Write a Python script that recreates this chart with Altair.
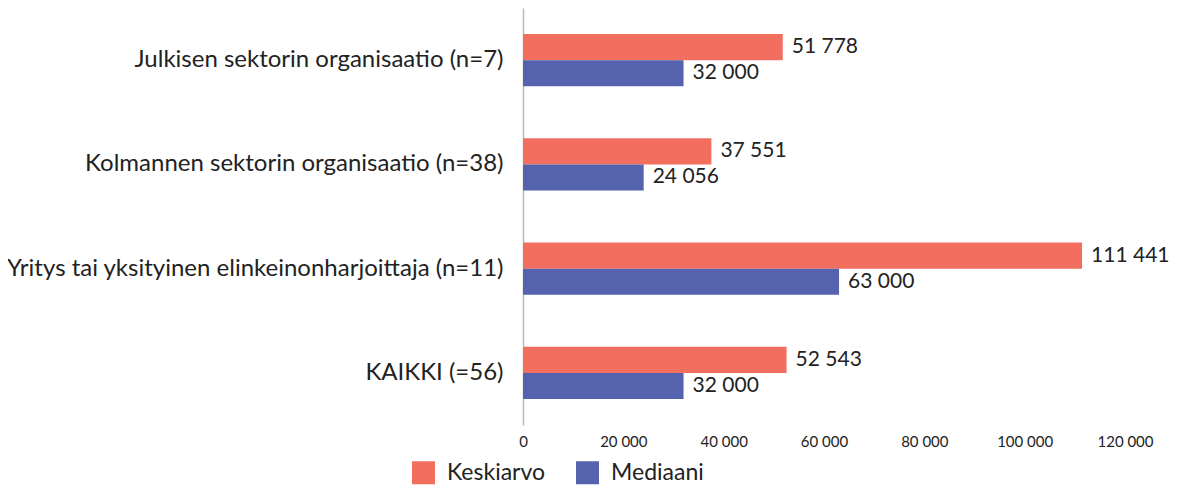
import altair as alt
import pandas as pd

categories = [
    "Julkisen sektorin organisaatio (n=7)",
    "Kolmannen sektorin organisaatio (n=38)",
    "Yritys tai yksityinen elinkeinonharjoittaja (n=11)",
    "KAIKKI (=56)",
]
series = ["Keskiarvo", "Mediaani"]
keskiarvo = [51778, 37551, 111441, 52543]
mediaani = [32000, 24056, 63000, 32000]
x_ticks = [0, 20000, 40000, 60000, 80000, 100000, 120000]
colors = ["#F26E5F", "#5563AE"]

rows = []
for c, k, m in zip(categories, keskiarvo, mediaani):
    rows.append({"cat": c, "series": series[0], "value": k})
    rows.append({"cat": c, "series": series[1], "value": m})
df = pd.DataFrame(rows)
df["label"] = df["value"].map(lambda v: f"{v:,}".replace(",", " "))

FONT = "Lato"
TXT = "#222222"

y_enc = alt.Y(
    "cat:N",
    sort=categories,
    title=None,
    scale=alt.Scale(paddingInner=0.5, paddingOuter=0.25),
    axis=alt.Axis(
        labelFontSize=24, labelColor=TXT, labelFont=FONT, labelPadding=20,
        ticks=False, domainColor="#BBBBBB", domainWidth=1.5, labelLimit=600,
    ),
)
x_enc = alt.X(
    "value:Q",
    title=None,
    scale=alt.Scale(domain=[0, 120000], nice=False),
    axis=alt.Axis(
        values=x_ticks, labelExpr="replace(format(datum.value, ','), ',', ' ')",
        grid=False, ticks=False, domain=False, labelFontSize=15,
        labelColor=TXT, labelFont=FONT, labelPadding=9, labelFlush=False,
        labelOverlap=False,
    ),
)

base = alt.Chart(df)
bars = base.mark_bar().encode(
    x=x_enc,
    y=y_enc,
    yOffset=alt.YOffset("series:N", sort=series),
    color=alt.Color(
        "series:N",
        scale=alt.Scale(domain=series, range=colors),
        legend=alt.Legend(
            title=None, orient="none", legendX=-111, legendY=453,
            direction="horizontal", symbolType="square", symbolSize=529,
            symbolStrokeWidth=0, labelFontSize=23, labelFont=FONT,
            labelColor=TXT, labelOffset=12, columnPadding=30,
        ),
    ),
)
labels = base.mark_text(
    align="left", baseline="middle", dx=9, fontSize=21, font=FONT, color=TXT
).encode(
    x=alt.X("value:Q"),
    y=alt.Y("cat:N", sort=categories),
    yOffset=alt.YOffset("series:N", sort=series),
    text="label:N",
)

chart = (
    alt.layer(bars, labels)
    .properties(
        width=602, height=417,
        padding={"left": 515, "top": 0, "right": 44, "bottom": 62},
        autosize=alt.AutoSizeParams(type="none"),
    )
    .configure(font=FONT)
    .configure_view(stroke=None, strokeWidth=0)
)
chart.save("out.html", embed_options={"renderer": "svg", "actions": False})
